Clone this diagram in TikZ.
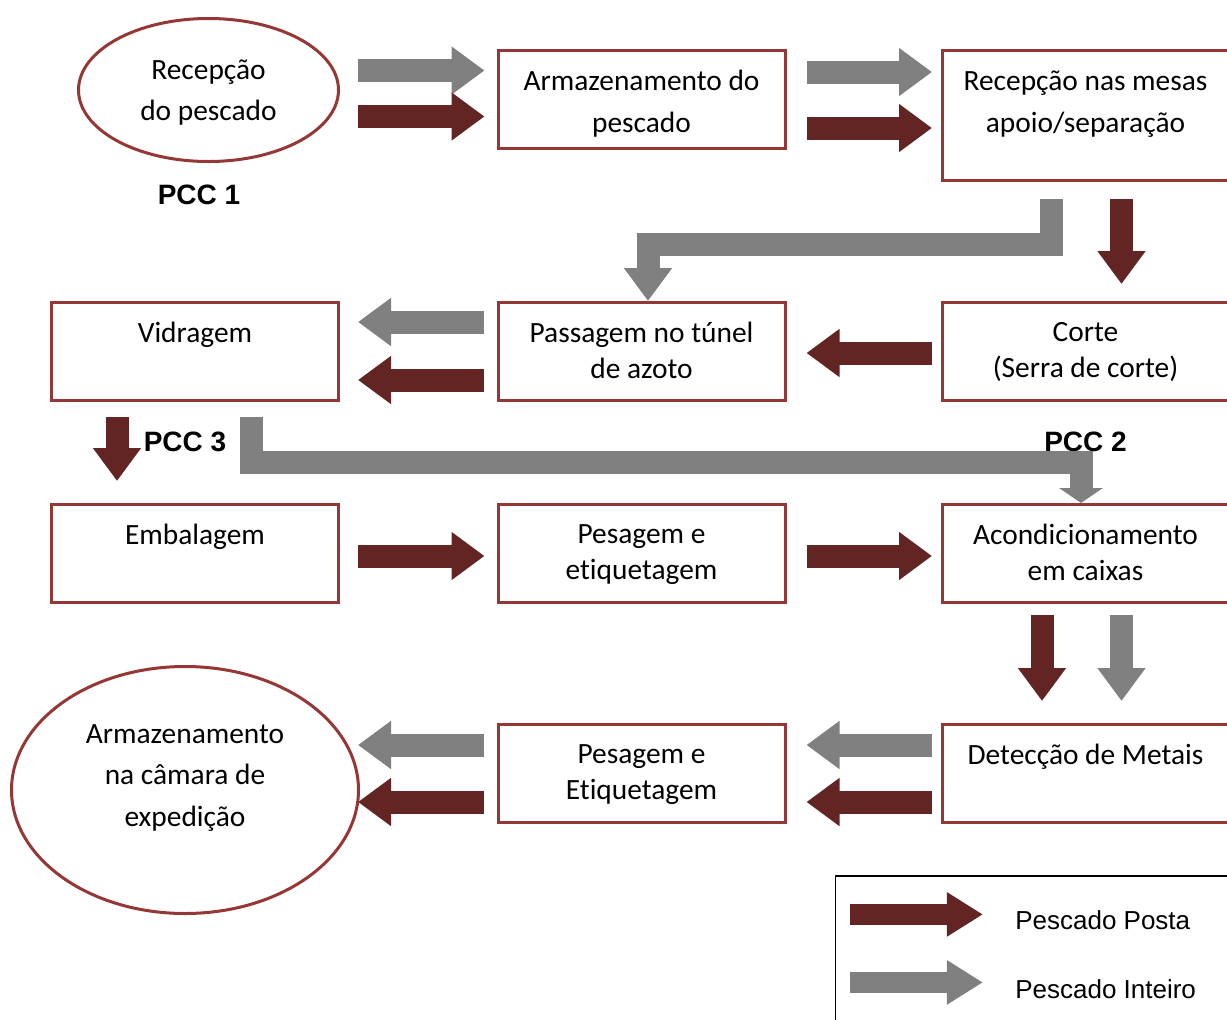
\documentclass[tikz,border=0pt]{standalone}
\usepackage{fontspec}
\setmainfont{Carlito}[Ligatures=NoCommon]
\newfontfamily\arialfont{Liberation Sans}
\usetikzlibrary{arrows.meta,calc,shapes.geometric}
\definecolor{boxred}{HTML}{953735}
\definecolor{postared}{HTML}{632523}
\definecolor{inteirogray}{HTML}{808080}
\tikzset{
  % Base styles
  flow base/.style={x=0.5pt, y=-0.5pt},
  % Process steps
  stage box/.style={rectangle, draw=boxred, line width=1.5pt, minimum width=143.5pt, minimum height=49pt, inner sep=0pt},
  stage oval/.style={ellipse, draw=boxred, line width=1.5pt, inner sep=0pt},
  stage text/.style={anchor=north, align=center, inner sep=0pt, font=\fontsize{14.7}{18}\selectfont},
  wide text/.style={stage text, font=\fontsize{14.7}{21}\selectfont},
  % Block arrows
  posta arrow/.style={draw=postared, line width=11.5pt, line join=miter, -{Triangle[length=16.5pt, width=23pt]}},
  inteiro arrow/.style={draw=inteirogray, line width=11.5pt, line join=miter, -{Triangle[length=16.5pt, width=23pt]}},
  % Labels
  pcc label/.style={font=\arialfont\bfseries\fontsize{14}{16}\selectfont, inner sep=0pt},
  legend text/.style={anchor=west, font=\arialfont\fontsize{13}{15}\selectfont, inner sep=0pt},
}

\begin{document}
\begin{tikzpicture}[flow base]
\clip (0,0) rectangle (1227,1019);

% Row 1
\node[stage oval, minimum width=130pt, minimum height=71.5pt] (rec) at (208.5,90) {};
\node[stage box] (arm) at (641.5,99.5) {};
\node[stage box, minimum height=65pt] (mesa) at (1085.5,115.5) {};
\node[wide text, anchor=center, font=\fontsize{14.7}{20.5}\selectfont] (recT) at ($(rec.center)+(0,3)$) {Recepção\\do pescado};
\node[wide text] (armT) at ($(arm.north)+(0,21)$) {Armazenamento do\\pescado};
\node[wide text] (mesaT) at ($(mesa.north)+(0,21)$) {Recepção nas mesas\\apoio/separação};
\node[pcc label] (pcc1) at ($(rec.south)+(-9.5,32)$) {PCC 1};

% Row 2
\node[stage box] (vid) at (195,351.5) {};
\node[stage box] (tun) at (641.5,351.5) {};
\node[stage box] (cor) at (1085.5,351.5) {};
\node[stage text] (vidT) at ($(vid.north)+(0,21)$) {Vidragem};
\node[stage text] (tunT) at ($(tun.north)+(0,21)$) {Passagem no túnel\\de azoto};
\node[stage text] (corT) at ($(cor.north)+(0,21)$) {Corte\\(Serra de corte)};
\node[pcc label] (pcc3) at ($(vid.south)+(-10,40)$) {PCC 3};
\node[pcc label] (pcc2) at ($(cor.south)+(0,40)$) {PCC 2};

% Row 3
\node[stage box] (emb) at (195,553.5) {};
\node[stage box] (pes1) at (641.5,553.5) {};
\node[stage box] (aco) at (1085.5,553.5) {};
\node[stage text] (embT) at ($(emb.north)+(0,21)$) {Embalagem};
\node[stage text] (pes1T) at ($(pes1.north)+(0,21)$) {Pesagem e\\etiquetagem};
\node[stage text] (acoT) at ($(aco.north)+(0,21)$) {Acondicionamento\\em caixas};

% Row 4
\node[stage oval, minimum width=173.5pt, minimum height=123.5pt] (cam) at (185,790) {};
\node[stage box] (pes2) at (641.5,773.5) {};
\node[stage box] (det) at (1085.5,773.5) {};
\node[wide text, anchor=center, font=\fontsize{14.7}{20.8}\selectfont] (camT) at ($(cam.center)+(0,-12)$) {Armazenamento\\na câmara de\\expedição};
\node[stage text] (pes2T) at ($(pes2.north)+(0,21)$) {Pesagem e\\Etiquetagem};
\node[stage text] (detT) at ($(det.north)+(0,21)$) {Detecção de Metais};

% Arrows row 1
\draw[inteiro arrow] ($(rec.east)+(18,-19.5)$) -- ($(arm.west)+(-12,-29)$);
\draw[posta arrow] ($(rec.east)+(18,26.5)$) -- ($(arm.west)+(-12,17)$);
\draw[inteiro arrow] ($(arm.east)+(20,-27.5)$) -- ($(mesa.west)+(-8.5,-43.5)$);
\draw[posta arrow] ($(arm.east)+(20,28.5)$) -- ($(mesa.west)+(-8.5,12.5)$);

% Down to row 2
\draw[posta arrow] ($(mesa.south)+(36,17)$) -- ($(cor.north)+(36,-17)$);
\draw[inteiro arrow] ($(mesa.south)+(-34,17)$) |- ($(tun.north)+(6.5,-57)$) -- ($(tun.north)+(6.5,0)$);

% Arrows row 2
\draw[posta arrow] ($(cor.west)+(-8.5,1.5)$) -- ($(tun.east)+(20,1.5)$);
\draw[inteiro arrow] ($(tun.west)+(-13,-29.5)$) -- ($(vid.east)+(18,-29.5)$);
\draw[posta arrow] ($(tun.west)+(-13,28.5)$) -- ($(vid.east)+(18,28.5)$);

% Down to row 3
\draw[posta arrow] ($(vid.south)+(-78,15)$) -- ($(emb.north)+(-78,-22)$);
\draw[inteiro arrow, -{Triangle[length=7.5pt, width=21.5pt]}] ($(vid.south)+(56.5,15)$) |- ($(aco.north)+(-4.5,-41)$) -- ($(aco.north)+(-4.5,0)$);

% Arrows row 3
\draw[posta arrow] ($(emb.east)+(18,2.5)$) -- ($(pes1.west)+(-12,2.5)$);
\draw[posta arrow] ($(pes1.east)+(20,2.5)$) -- ($(aco.west)+(-8.5,2.5)$);

% Down to row 4
\draw[posta arrow] ($(aco.south)+(-43.5,11)$) -- ($(det.north)+(-43.5,-22)$);
\draw[inteiro arrow] ($(aco.south)+(36,11)$) -- ($(det.north)+(36,-22)$);

% Arrows row 4
\draw[inteiro arrow] ($(det.west)+(-8.5,-28.5)$) -- ($(pes2.east)+(20,-28.5)$);
\draw[posta arrow] ($(det.west)+(-8.5,28.5)$) -- ($(pes2.east)+(20,28.5)$);
\draw[inteiro arrow] ($(pes2.west)+(-13,-28.5)$) -- ($(cam.east)+(-2,-45)$);
\draw[posta arrow] ($(pes2.west)+(-13,28.5)$) -- ($(cam.east)+(-2,12)$);

% Legend
\node[draw=black, line width=0.6pt, minimum width=212pt, minimum height=82pt, inner sep=0pt] (leg) at (1047.5,958) {};
\draw[posta arrow, line width=10.5pt, -{Triangle[length=18pt, width=21pt]}] ($(leg.north west)+(15,39)$) -- ++(133,0);
\draw[inteiro arrow, line width=10.5pt, -{Triangle[length=18pt, width=21pt]}] ($(leg.north west)+(15,107)$) -- ++(133,0);
\node[legend text] (legP) at ($(leg.north west)+(180,45)$) {Pescado Posta};
\node[legend text] (legI) at ($(leg.north west)+(180,114)$) {Pescado Inteiro};
\end{tikzpicture}
\end{document}
